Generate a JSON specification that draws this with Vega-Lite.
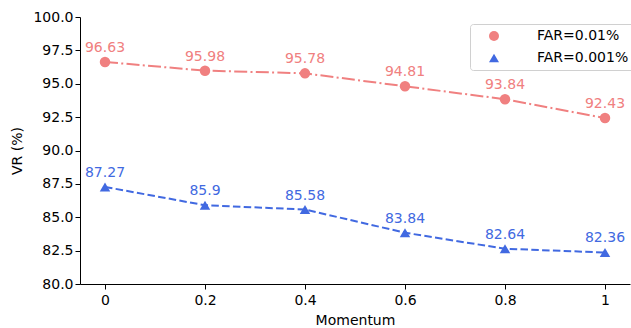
{
  "$schema": "https://vega.github.io/schema/vega-lite/v6.json",
  "width": 550,
  "height": 267,
  "autosize": {"type": "none"},
  "padding": {"left": 80, "top": 17, "right": 1, "bottom": 44},
  "background": "white",
  "config": {
    "font": "DejaVu Sans",
    "view": {"stroke": null},
    "axis": {"grid": false, "domainColor": "black", "tickColor": "black", "labelColor": "black", "titleColor": "black", "labelFontSize": 14, "titleFontSize": 14, "titleFontWeight": "normal", "tickSize": 5, "domainWidth": 1, "tickWidth": 1}
  },
  "data": {
    "values": [
      {"momentum": 0, "vr": 96.63, "series": "FAR=0.01%"},
      {"momentum": 0.2, "vr": 95.98, "series": "FAR=0.01%"},
      {"momentum": 0.4, "vr": 95.78, "series": "FAR=0.01%"},
      {"momentum": 0.6, "vr": 94.81, "series": "FAR=0.01%"},
      {"momentum": 0.8, "vr": 93.84, "series": "FAR=0.01%"},
      {"momentum": 1, "vr": 92.43, "series": "FAR=0.01%"},
      {"momentum": 0, "vr": 87.27, "series": "FAR=0.001%"},
      {"momentum": 0.2, "vr": 85.9, "series": "FAR=0.001%"},
      {"momentum": 0.4, "vr": 85.58, "series": "FAR=0.001%"},
      {"momentum": 0.6, "vr": 83.84, "series": "FAR=0.001%"},
      {"momentum": 0.8, "vr": 82.64, "series": "FAR=0.001%"},
      {"momentum": 1, "vr": 82.36, "series": "FAR=0.001%"}
    ]
  },
  "encoding": {
    "x": {"field": "momentum", "type": "quantitative", "scale": {"domain": [-0.05, 1.05], "nice": false, "zero": false},
      "axis": {"values": [0, 0.2, 0.4, 0.6, 0.8, 1], "format": "~g", "title": "Momentum", "titlePadding": 6, "labelPadding": 4}},
    "y": {"field": "vr", "type": "quantitative", "scale": {"domain": [80, 100], "nice": false, "zero": false},
      "axis": {"values": [80, 82.5, 85, 87.5, 90, 92.5, 95, 97.5, 100], "format": ".1f", "title": "VR (%)", "titlePadding": 8, "labelPadding": 2}},
    "color": {"field": "series", "type": "nominal", "sort": ["FAR=0.01%", "FAR=0.001%"],
      "scale": {"domain": ["FAR=0.01%", "FAR=0.001%"], "range": ["#F08080", "#4169E1"]},
      "legend": {"title": null, "orient": "none", "legendX": 390, "legendY": 7, "labelFontSize": 14, "labelColor": "black",
        "symbolSize": 100, "symbolOffset": 12, "symbolStrokeWidth": 0, "symbolOpacity": 1, "strokeColor": "#d0d0d0", "fillColor": "white", "cornerRadius": 3, "padding": 5, "rowPadding": 8, "labelOffset": 36}
    }
  },
  "layer": [
    {
      "mark": {"type": "line", "strokeWidth": 2},
      "encoding": {
        "strokeDash": {"field": "series", "type": "nominal", "scale": {"domain": ["FAR=0.01%", "FAR=0.001%"], "range": [[13, 3.3, 2, 3.3], [7.5, 3.3]]}, "legend": null}
      }
    },
    {
      "mark": {"type": "point", "filled": true, "opacity": 1, "size": 110},
      "encoding": {
        "shape": {"field": "series", "type": "nominal", "scale": {"domain": ["FAR=0.01%", "FAR=0.001%"], "range": ["circle", "triangle-up"]}, "legend": null}
      }
    },
    {
      "mark": {"type": "text", "dy": -10, "baseline": "alphabetic", "fontSize": 14},
      "encoding": {
        "text": {"field": "vr", "type": "quantitative", "format": ".4~r"}
      }
    }
  ]
}
